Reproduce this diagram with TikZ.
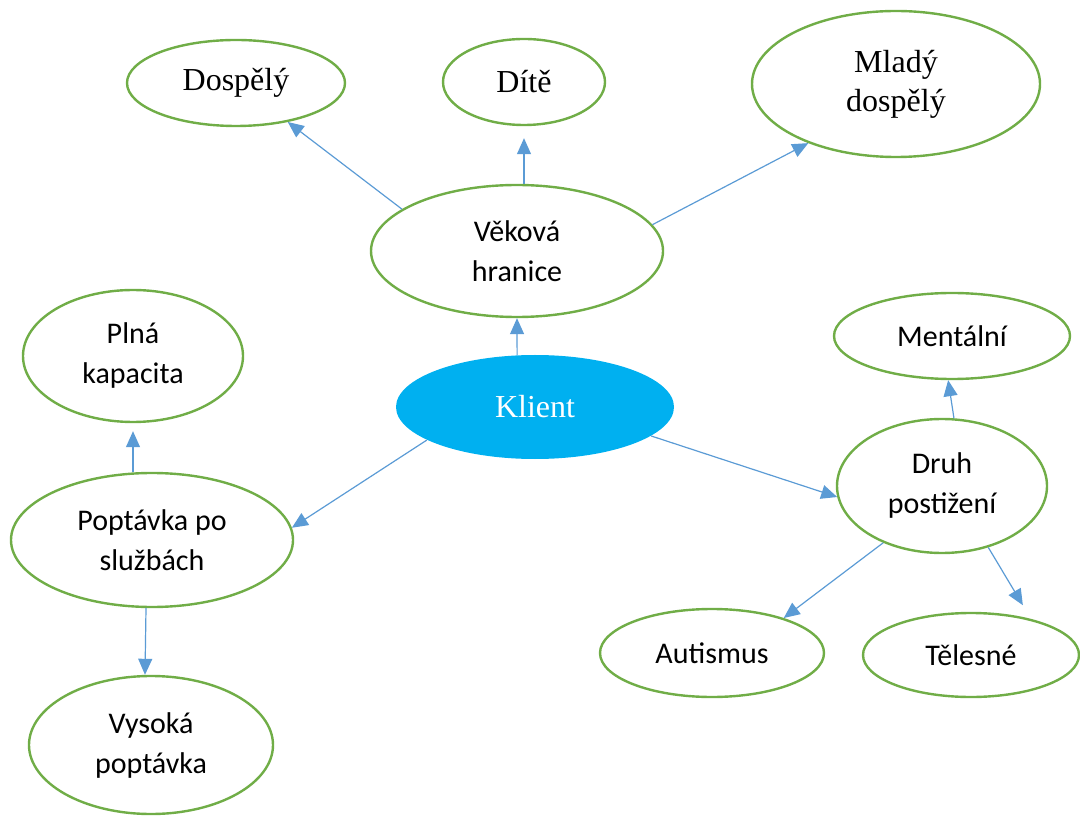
\documentclass[tikz,border=0pt]{standalone}
\usepackage{fontspec}
\setmainfont{Carlito}
\newfontfamily\timesfont{Liberation Serif}
\usetikzlibrary{shapes.geometric, arrows.meta}
\definecolor{bubblegreen}{HTML}{70AD47}
\definecolor{linkblue}{HTML}{5B9BD5}
\definecolor{klientblue}{HTML}{00B0F0}

\begin{document}
\begin{tikzpicture}[x=0.5pt, y=-0.5pt,
    bubble/.style={ellipse, draw=bubblegreen, line width=1.2pt, inner sep=0pt, align=center, font=\fontsize{15}{20}\selectfont},
    serifbubble/.style={bubble, font=\timesfont\fontsize{16}{19.5}\selectfont},
    link/.style={draw=linkblue, line width=0.6pt, -{Triangle[length=8pt,width=7pt]}}]
    \useasboundingbox (0,0) rectangle (1080,817);

    % age group
    \node[serifbubble, minimum width=109pt, minimum height=43pt] (dosp) at (236,83) {Dospělý};
    \node[serifbubble, minimum width=81pt, minimum height=43pt] (dite) at (524,82) {Dítě};
    \node[serifbubble, minimum width=144pt, minimum height=73pt] (mlady) at (896,84) {Mladý\\dospělý};
    \node[bubble, minimum width=146pt, minimum height=66pt] (vek) at (517,251) {Věková\\hranice};

    % centre
    \node[ellipse, fill=klientblue, inner sep=0pt, minimum width=139pt, minimum height=52pt,
          text=white, font=\timesfont\fontsize{16}{19.5}\selectfont] (klient) at (535,407) {Klient};

    % demand
    \node[bubble, minimum width=110pt, minimum height=66pt] (plna) at (133,356) {Plná\\kapacita};
    \node[bubble, minimum width=141pt, minimum height=67pt] (popt) at (152,540) {Poptávka po\\službách};
    \node[bubble, minimum width=122pt, minimum height=69pt] (vys) at (151,745) {Vysoká\\poptávka};

    % disability
    \node[bubble, minimum width=118pt, minimum height=43pt] (ment) at (952,336) {Mentální};
    \node[bubble, minimum width=105pt, minimum height=67pt] (druh) at (942,486) {Druh\\postižení};
    \node[bubble, minimum width=112pt, minimum height=44pt] (aut) at (712,653) {Autismus};
    \node[bubble, minimum width=108pt, minimum height=42pt] (tel) at (971,655) {Tělesné};

    \draw[link] (vek.160) -- (dosp.-37);
    \draw[link, shorten >=6pt] (dite.south |- vek.north) -- (dite.south);
    \draw[link] (vek.11) -- (mlady.214);
    \draw[link] (klient.109) -- (vek.south);

    \draw[link] (klient.197) -- (popt.5);
    \draw[link, shorten >=4pt] (plna.south |- popt.north) -- (plna.south);
    \draw[link] ([xshift=-3pt]popt.south) -- ([xshift=-3pt]vys.north);

    \draw[link] (klient.-14) -- (druh.186);
    \draw[link] (druh.80) -- (ment.-95);
    \draw[link] (druh.224) -- (aut.26);
    \draw[link, shorten >=8pt] (druh.-53) -- (tel.31);
\end{tikzpicture}
\end{document}
